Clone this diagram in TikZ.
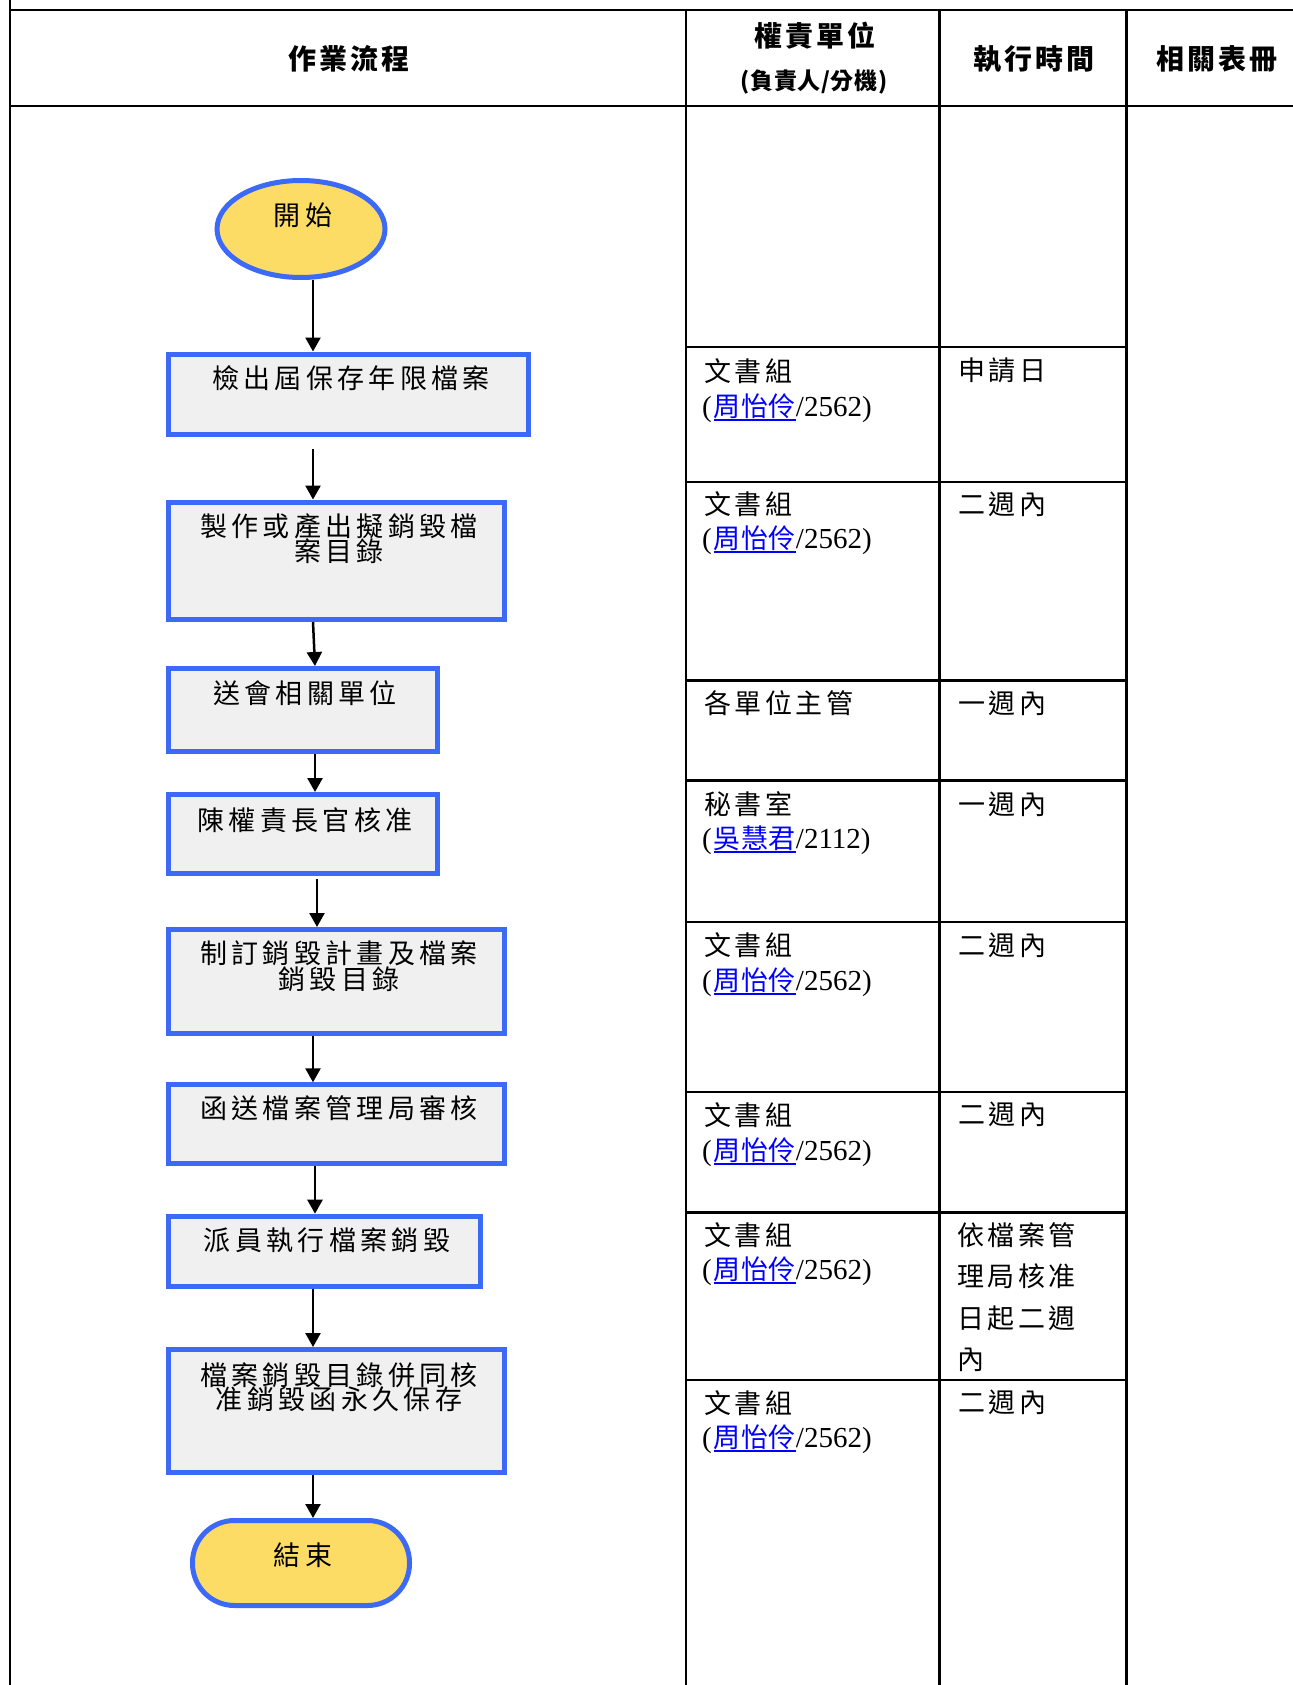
\documentclass[tikz,border=0pt]{standalone}
\usepackage{fontspec}
\setmainfont{Noto Sans CJK TC}
\newfontfamily\boxfont{Noto Sans CJK TC}[LetterSpace=16]
\newfontfamily\cellfont{Noto Sans CJK TC}[LetterSpace=13]
\newfontfamily\namefont{Noto Sans CJK TC}[LetterSpace=2]
\newfontfamily\headfont{Noto Sans CJK TC}[LetterSpace=10]
\newfontfamily\subheadfont{Noto Sans CJK TC}[LetterSpace=3]
\newfontfamily\numfont{Liberation Serif}
\usetikzlibrary{arrows.meta,shapes.geometric}
\definecolor{bblue}{RGB}{60,106,246}
\definecolor{byellow}{RGB}{253,220,102}
\definecolor{bgray}{RGB}{240,240,240}
\definecolor{lblue}{RGB}{0,0,255}
\newsavebox\ulbox
\newcommand\myul[1]{\sbox\ulbox{#1}\rlap{\usebox\ulbox}\rule[-4pt]{\wd\ulbox}{2pt}}
\newcommand\person[2]{{\numfont\fontsize{29pt}{32pt}\selectfont(\hspace{2pt}}{\color{lblue}\namefont\myul{#1}}{\numfont\fontsize{29pt}{32pt}\selectfont/#2)}}
\begin{document}
\begin{tikzpicture}[x=1pt,y=-1pt,
  tline/.style={line width=2.2pt, line cap=rect},
  flowbox/.style={rectangle, draw=bblue, line width=5pt, fill=bgray, inner sep=0pt},
  termstart/.style={ellipse, draw=bblue, line width=5pt, fill=byellow, inner sep=0pt},
  termend/.style={rectangle, rounded corners=42pt, draw=bblue, line width=5pt, fill=byellow, inner sep=0pt},
  boxtxt/.style={font=\boxfont\fontsize{27pt}{30pt}\selectfont, inner sep=0pt},
  headtxt/.style={font=\headfont\bfseries\fontsize{28pt}{32pt}\selectfont, inner sep=0pt},
  subhead/.style={font=\subheadfont\bfseries\fontsize{23pt}{27pt}\selectfont, inner sep=0pt},
  celltxt/.style={font=\cellfont\fontsize{27pt}{30pt}\selectfont, inner sep=0pt, anchor=west},
  arr/.style={line width=2.5pt, -{Triangle[length=14pt,width=15pt]}}
]
\useasboundingbox (0,0) rectangle (1292,1685);
% ---------- table lines ----------
\draw[tline] (9.7,0) -- (9.7,1685);
\draw[tline] (9.7,9.7) -- (1292,9.7);
\draw[tline] (9.7,106.4) -- (1292,106.4);
\draw[tline] (685.8,9.7) -- (685.8,1685);
\draw[tline] (939.5,9.7) -- (939.5,1685);
\draw[tline] (1126.5,9.7) -- (1126.5,1685);
\foreach \yy in {347.2,481.6,680.4,780.4,922.3,1092.1,1212.5,1380.2}
  \draw[tline] (685.8,\yy) -- (1126.5,\yy);
% ---------- header ----------
\node[headtxt] (h1) at (349,59) {作業流程};
\node[headtxt] (h2a) at (815,35.5) {權責單位};
\node[subhead] (h2b) at (814,82) {(負責人/分機)};
\node[headtxt] (h3) at (1034,59) {執行時間};
\node[headtxt] (h4) at (1217,59) {相關表冊};
% ---------- column 2 ----------
\node[celltxt] (r1a) at (704,370.8) {文書組};
\node[celltxt] (r1b) at (702,408.5) {\person{周怡伶}{2562}};
\node[celltxt] (r2a) at (704,504.1) {文書組};
\node[celltxt] (r2b) at (702,540.7) {\person{周怡伶}{2562}};
\node[celltxt] (r3a) at (704,703) {各單位主管};
\node[celltxt] (r4a) at (704,804) {秘書室};
\node[celltxt] (r4b) at (702,840.6) {\person{吳慧君}{2112}};
\node[celltxt] (r5a) at (704,944.8) {文書組};
\node[celltxt] (r5b) at (702,982.5) {\person{周怡伶}{2562}};
\node[celltxt] (r6a) at (704,1114.7) {文書組};
\node[celltxt] (r6b) at (702,1152.3) {\person{周怡伶}{2562}};
\node[celltxt] (r7a) at (704,1235) {文書組};
\node[celltxt] (r7b) at (702,1271.6) {\person{周怡伶}{2562}};
\node[celltxt] (r8a) at (704,1402.7) {文書組};
\node[celltxt] (r8b) at (702,1439.3) {\person{周怡伶}{2562}};
% ---------- column 3 ----------
\node[celltxt] (s1) at (958,370.8) {申請日};
\node[celltxt] (s2) at (958,504.1) {二週內};
\node[celltxt] (s3) at (958,703) {一週內};
\node[celltxt] (s4) at (958,804) {一週內};
\node[celltxt] (s5) at (958,944.8) {二週內};
\node[celltxt] (s6) at (958,1114.7) {二週內};
\node[celltxt] (s7a) at (957,1235) {依檔案管};
\node[celltxt] (s7b) at (957,1276.6) {理局核准};
\node[celltxt] (s7c) at (957,1318.2) {日起二週};
\node[celltxt] (s7d) at (957,1359.8) {內};
\node[celltxt] (s8) at (958,1402.7) {二週內};
% ---------- flowchart ----------
\coordinate (xa) at (313,0);
\coordinate (xb) at (315,0);
\coordinate (xc) at (317,0);
\node[termstart, minimum width=168pt, minimum height=97pt] (start) at (301,229) {};
\node[boxtxt] (tstart) at (303,215) {開始};
\node[flowbox, minimum width=360pt, minimum height=80pt] (b1) at (348.5,394) {};
\node[boxtxt] (t1) at (351,378.4) {檢出屆保存年限檔案};
\node[flowbox, minimum width=336pt, minimum height=117.5pt] (b2) at (336.5,560.8) {};
\node[boxtxt] (t2a) at (339,526.7) {製作或產出擬銷毀檔};
\node[boxtxt] (t2b) at (339,551.4) {案目錄};
\node[flowbox, minimum width=269pt, minimum height=83pt] (b3) at (303,710) {};
\node[boxtxt] (t3) at (305,693.3) {送會相關單位};
\node[flowbox, minimum width=269pt, minimum height=79pt] (b4) at (303,834) {};
\node[boxtxt] (t4) at (305,820) {陳權責長官核准};
\node[flowbox, minimum width=336pt, minimum height=104pt] (b5) at (336.5,981.5) {};
\node[boxtxt] (t5a) at (339,953.4) {制訂銷毀計畫及檔案};
\node[boxtxt] (t5b) at (339,979.2) {銷毀目錄};
\node[flowbox, minimum width=336pt, minimum height=79pt] (b6) at (336.5,1124.3) {};
\node[boxtxt] (t6) at (339,1108.2) {函送檔案管理局審核};
\node[flowbox, minimum width=312pt, minimum height=70pt] (b7) at (324.5,1251.2) {};
\node[boxtxt] (t7) at (327,1240.4) {派員執行檔案銷毀};
\node[flowbox, minimum width=336pt, minimum height=123pt] (b8) at (336.5,1411) {};
\node[boxtxt] (t8a) at (339,1374.8) {檔案銷毀目錄併同核};
\node[boxtxt] (t8b) at (339,1399.5) {准銷毀函永久保存};
\node[termend, minimum width=217pt, minimum height=85pt] (endn) at (301,1563) {};
\node[boxtxt] (tend) at (303,1555.4) {結束};
% ---------- connectors ----------
\draw[arr] (start.south -| xa) -- (b1.north -| xa);
\draw[arr, shorten <=12.5pt] (b1.south -| xa) -- (b2.north -| xa);
\draw[arr] (b2.south -| xa) -- (b3.north -| xb);
\draw[arr] (b3.south -| xb) -- (b4.north -| xb);
\draw[arr, shorten <=3pt] (b4.south -| xc) -- (b5.north -| xc);
\draw[arr] (b5.south -| xa) -- (b6.north -| xa);
\draw[arr] (b6.south -| xb) -- (b7.north -| xb);
\draw[arr] (b7.south -| xa) -- (b8.north -| xa);
\draw[arr] (b8.south -| xa) -- (endn.north -| xa);
\end{tikzpicture}
\end{document}
